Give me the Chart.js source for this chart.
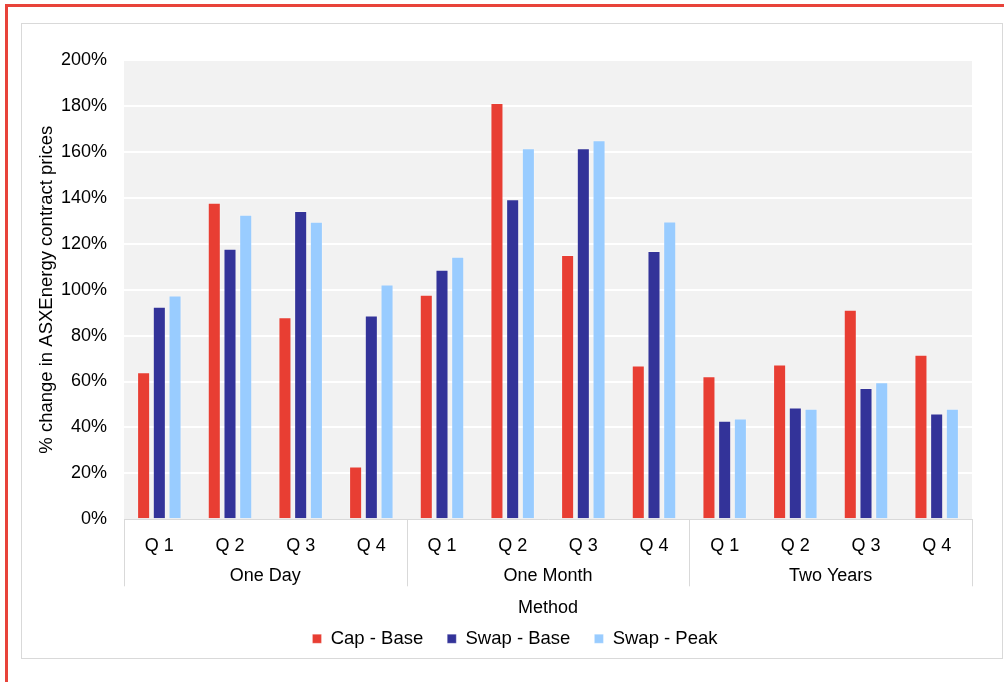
<!DOCTYPE html>
<html>
<head>
<meta charset="utf-8">
<script src="https://cdn.jsdelivr.net/npm/chart.js@4"></script>
<style>
  html, body { margin: 0; padding: 0; background: #fff; }
  body { width: 1004px; height: 682px; position: relative; overflow: hidden; }
  #frame { position: absolute; left: 5px; top: 4px; width: 1010px; height: 700px;
           border-left: 3px solid #e8433a; border-top: 3px solid #e8433a; }
  #box { position: absolute; left: 21px; top: 23px; width: 980px; height: 634px;
         border: 1px solid #d9d9d9; background: #fff; }
  #box canvas { display: block; }
</style>
</head>
<body>
<div id="frame"></div>
<div id="box"><canvas id="c" width="980" height="634"></canvas></div>
<script>
// Horizon groups and quarters shown on the two-level category axis
const periods = ['One Day', 'One Month', 'Two Years'];
const quarters = ['Q 1', 'Q 2', 'Q 3', 'Q 4'];

// % change in ASXEnergy contract prices, per period then quarter
const capBase  = [64, 137.8, 88, 23,   97.8, 181.3, 115.1, 67,    62.3, 67.4, 91.3, 71.6];
const swapBase = [92.6, 117.8, 134.3, 88.7,   108.7, 139.4, 161.6, 116.8,   42.9, 48.7, 57.2, 46.1];
const swapPeak = [97.4, 132.6, 129.6, 102.2,  114.3, 161.6, 165.1, 129.7,   43.9, 48.1, 59.7, 48.1];

const yTicks = [0, 20, 40, 60, 80, 100, 120, 140, 160, 180, 200];

const categoryLabels = periods.flatMap(() => quarters);
const FONT = 'Liberation Sans, Arial, sans-serif';

// Grey plot background
const plotBackground = {
  id: 'plotBackground',
  beforeDraw(chart) {
    const { ctx, chartArea: a } = chart;
    ctx.save();
    ctx.fillStyle = '#f2f2f2';
    ctx.fillRect(a.left, a.top, a.right - a.left, a.bottom - a.top);
    ctx.restore();
  }
};

// Vertical separators between the period groups under the axis
const groupSeparators = {
  id: 'groupSeparators',
  afterDraw(chart) {
    const { ctx } = chart;
    const x = chart.scales.x;
    const x2 = chart.scales.x2;
    const half = (x.getPixelForValue(1) - x.getPixelForValue(0)) / 2;
    ctx.save();
    ctx.strokeStyle = '#d9d9d9';
    ctx.lineWidth = 1;
    for (let g = 0; g <= periods.length; g++) {
      const i = g * quarters.length;
      const px = i < categoryLabels.length
        ? x.getPixelForValue(i) - half
        : x.getPixelForValue(categoryLabels.length - 1) + half;
      const xx = Math.round(px) + 0.5;
      ctx.beginPath();
      ctx.moveTo(xx, x.top);
      ctx.lineTo(xx, x2.top + 27);
      ctx.stroke();
    }
    ctx.restore();
  }
};

// Keep wide gaps between legend entries while trimming the space above them,
// and nudge the row slightly right
const LEGEND_TRIM = 13;
const LEGEND_SHIFT = 13;
const legendTrim = {
  id: 'legendTrim',
  afterInit(chart) {
    const lg = chart.legend;
    if (!lg) return;
    const fit = lg.fit.bind(lg);
    lg.fit = function () { fit(); this.height -= LEGEND_TRIM; };
    const draw = lg.draw.bind(lg);
    lg.draw = function () {
      this.top -= LEGEND_TRIM;
      this.height += LEGEND_TRIM;
      this.left += LEGEND_SHIFT;
      this.right += LEGEND_SHIFT;
      draw();
      this.top += LEGEND_TRIM;
      this.height -= LEGEND_TRIM;
      this.left -= LEGEND_SHIFT;
      this.right -= LEGEND_SHIFT;
    };
  }
};

new Chart(document.getElementById('c'), {
  type: 'bar',
  data: {
    labels: categoryLabels,
    datasets: [
      { label: 'Cap - Base',  data: capBase,  backgroundColor: '#e83e33', borderColor: 'rgba(255,255,255,0.25)', borderWidth: 1 },
      { label: 'Swap - Base', data: swapBase, backgroundColor: '#333399', borderColor: 'rgba(255,255,255,0.25)', borderWidth: 1 },
      { label: 'Swap - Peak', data: swapPeak, backgroundColor: '#99ccff', borderColor: 'rgba(255,255,255,0.25)', borderWidth: 1 }
    ]
  },
  plugins: [plotBackground, groupSeparators, legendTrim],
  options: {
    responsive: false,
    animation: false,
    devicePixelRatio: 1,
    layout: { padding: { left: 10, right: 30, top: 36, bottom: 0 } },
    datasets: { bar: { categoryPercentage: 0.667, barPercentage: 0.83 } },
    plugins: {
      tooltip: { enabled: false },
      legend: {
        position: 'bottom',
        labels: {
          font: { family: FONT, size: 18.5 },
          color: '#000',
          boxWidth: 9,
          boxHeight: 9,
          padding: 24
        }
      }
    },
    scales: {
      y: {
        min: 0,
        max: 200,
        afterBuildTicks(scale) { scale.ticks = yTicks.map(v => ({ value: v })); },
        afterFit(scale) { scale.width = 92; },
        ticks: {
          font: { family: FONT, size: 18 },
          color: '#000',
          padding: 17,
          callback: v => v + '%'
        },
        grid: {
          color: ctx => ctx.tick && ctx.tick.value === 0 ? 'rgba(0,0,0,0)' : '#ffffff',
          lineWidth: 2,
          drawTicks: false
        },
        border: { display: false },
        title: {
          display: true,
          text: '% change in ASXEnergy contract prices',
          font: { family: FONT, size: 18.5 },
          color: '#000',
          padding: { top: 4, bottom: 4 }
        }
      },
      x: {
        position: 'bottom',
        afterFit(scale) { scale.height = 40; },
        ticks: {
          font: { family: FONT, size: 18 },
          color: '#000',
          autoSkip: false,
          maxRotation: 0,
          padding: 16
        },
        grid: { display: false, drawTicks: false },
        border: { display: true, color: '#d9d9d9', width: 1 }
      },
      x2: {
        type: 'category',
        position: 'bottom',
        labels: periods,
        offset: true,
        ticks: {
          font: { family: FONT, size: 18 },
          color: '#000',
          autoSkip: false,
          maxRotation: 0,
          padding: 6
        },
        grid: { display: false, drawTicks: false },
        border: { display: false },
        title: {
          display: true,
          text: 'Method',
          font: { family: FONT, size: 18 },
          color: '#000',
          padding: { top: 4, bottom: 0 }
        }
      }
    }
  }
});
</script>
</body>
</html>
